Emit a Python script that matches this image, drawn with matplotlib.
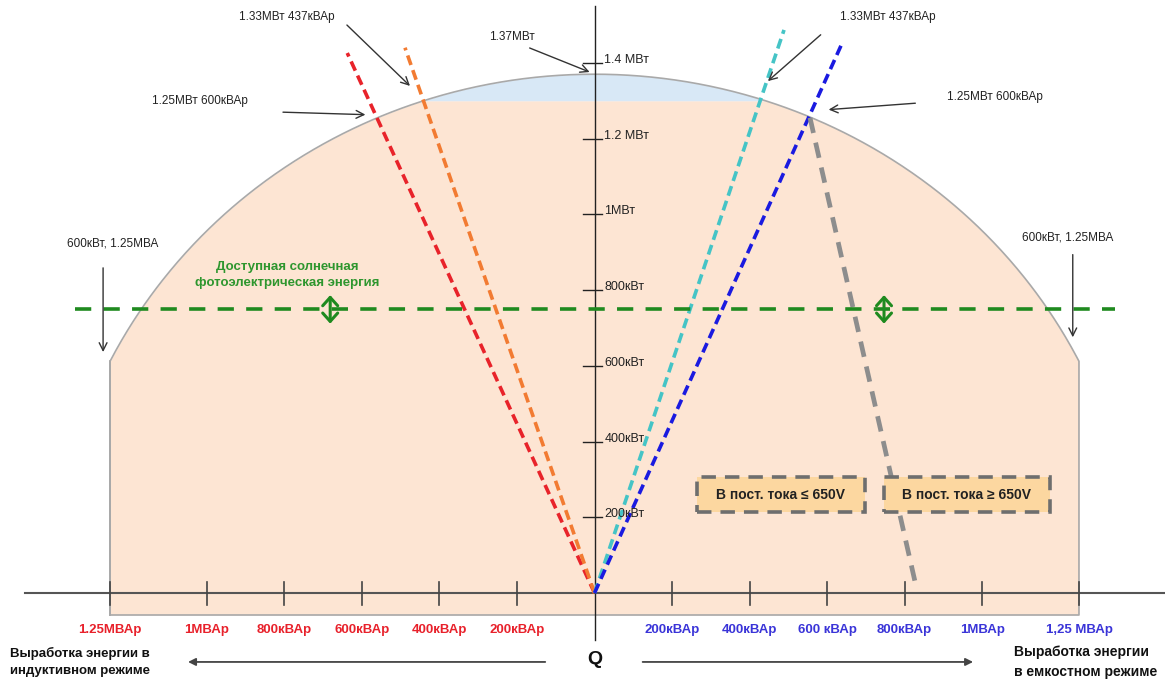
import numpy as np
import matplotlib
matplotlib.use("Agg")
import matplotlib.pyplot as plt
from matplotlib.patches import Rectangle

plt.rcParams['font.family'] = ['Liberation Sans', 'DejaVu Sans']

# --- Данные (кВАр по горизонтали, кВт по вертикали) ---
dome_top_kw = 1370
dome_edge_kw = 612
dome_edge_kvar = 1250
band_kw = 1300          # граница голубой зоны
floor_kw = -58          # нижний край закрашенной области

q_ticks_left = [-1250, -1000, -800, -600, -400, -200]
q_labels_left = ['1.25МВАр', '1МВАр', '800кВАр', '600кВАр', '400кВАр', '200кВАр']
q_ticks_right = [200, 400, 600, 800, 1000, 1250]
q_labels_right = ['200кВАр', '400кВАр', '600 кВАр', '800кВАр', '1МВАр', '1,25 МВАр']
p_ticks = [200, 400, 600, 800, 1000, 1200, 1400]
p_labels = ['200кВт', '400кВт', '600кВт', '800кВт', '1МВт', '1.2 МВт', '1.4 МВт']

red_q, red_p = [0, -638], [0, 1426]
orange_q, orange_p = [0, -489], [0, 1440]
cyan_q, cyan_p = [0, 489], [0, 1487]
blue_q, blue_p = [0, 638], [0, 1450]
gray_q, gray_p = [556, 829], [1255, 21]
solar_q, solar_p = [-1340, 1343], [750, 750]
solar_arrows_q = [-682, 747]
solar_arrow_p = [704, 794]

# --- Фигура: оси на весь холст, масштаб подобран под картинку ---
fig = plt.figure(figsize=(11.65, 6.93), dpi=100)
ax = fig.add_axes([0, 0, 1, 1])
ax.set_xlim(-1534, 1472)
ax.set_ylim(-264, 1566)
ax.axis('off')

# купол
a = dome_edge_kvar / np.sqrt(1 - (dome_edge_kw / dome_top_kw) ** 2)
q = np.linspace(-dome_edge_kvar, dome_edge_kvar, 500)
dome = dome_top_kw * np.sqrt(1 - (q / a) ** 2)

ax.fill_between(q, floor_kw, np.minimum(dome, band_kw), color='#fde5d3', lw=0, zorder=1)
ax.fill_between(q, band_kw, dome, where=dome > band_kw, color='#d8e8f6', lw=0, zorder=1)
ox = np.concatenate([[-dome_edge_kvar], q, [dome_edge_kvar, dome_edge_kvar, -dome_edge_kvar, -dome_edge_kvar]])
oy = np.concatenate([[floor_kw], dome, [dome[-1], floor_kw, floor_kw, dome[0]]])
ax.plot(ox, oy, color='#a9a9a9', lw=1.2, zorder=2)

# оси
ax.plot([-1470, 1472], [0, 0], color='#555555', lw=1.5, zorder=3)
ax.plot([0, 0], [-125, 1550], color='#222222', lw=1.0, zorder=3)
for t in q_ticks_left + q_ticks_right:
    ax.plot([t, t], [-32, 28], color='#444444', lw=1.2, zorder=3)
for t, lab in zip(p_ticks, p_labels):
    ax.plot([-30, 20], [t, t], color='#222222', lw=1.0, zorder=3)
    ax.text(25, t + 8, lab, fontsize=9, color='#222222', va='center', ha='left', zorder=6)

for t, lab in zip(q_ticks_left, q_labels_left):
    ax.text(t, -98, lab, fontsize=9.5, fontweight='bold', color='#e8212b', ha='center', va='center')
for t, lab in zip(q_ticks_right, q_labels_right):
    ax.text(t, -98, lab, fontsize=9.5, fontweight='bold', color='#3a34d8', ha='center', va='center')

# линии режимов
ax.plot(red_q, red_p, color='#e8232a', lw=2.6, dashes=[2.8, 1.5], zorder=4)
ax.plot(orange_q, orange_p, color='#f27b32', lw=2.6, dashes=[2.8, 1.5], zorder=4)
ax.plot(cyan_q, cyan_p, color='#45c4c6', lw=2.6, dashes=[2.8, 1.5], zorder=4)
ax.plot(blue_q, blue_p, color='#1a1ae0', lw=2.6, dashes=[2.8, 1.5], zorder=4)
ax.plot(gray_q, gray_p, color='#8d8d8d', lw=3.4, dashes=[3.3, 2.1], zorder=4)

# доступная солнечная энергия
ax.plot(solar_q, solar_p, color='#1f8a1f', lw=2.6, dashes=[4.5, 3.4], zorder=4)
for sq in solar_arrows_q:
    ax.annotate('', xy=(sq, solar_arrow_p[1]), xytext=(sq, solar_arrow_p[0]),
                arrowprops=dict(arrowstyle='<->, head_length=0.5, head_width=0.45',
                                color='#1f8a1f', lw=2.2, mutation_scale=12),
                zorder=5)
ax.text(-793, 840, 'Доступная солнечная\nфотоэлектрическая энергия', fontsize=9.5,
        fontweight='bold', color='#2e962e', ha='center', va='center', linespacing=1.4)

# подписи со стрелками
arrow_kw = dict(arrowstyle='->', color='#333333', lw=1.0, mutation_scale=14)
notes = [
    ('1.33МВт 437кВАр', (-795, 1521), (-644, 1505), (-471, 1334)),
    ('1.25МВт 600кВАр', (-1017, 1300), (-811, 1270), (-584, 1263)),
    ('1.37МВт', (-213, 1469), (-174, 1442), (-6, 1373)),
    ('1.33МВт 437кВАр', (757, 1521), (589, 1479), (442, 1347)),
    ('1.25МВт 600кВАр', (1033, 1310), (835, 1294), (597, 1276)),
    ('600кВт, 1.25МВА', (-1242, 924), (-1268, 866), (-1268, 629)),
    ('600кВт, 1.25МВА', (1222, 938), (1234, 901), (1234, 668)),
]
for txt, pos, tail, head in notes:
    ax.text(pos[0], pos[1], txt, fontsize=8.5, color='#222222', ha='center', va='center', zorder=6)
    ax.annotate('', xy=head, xytext=tail, arrowprops=arrow_kw, zorder=6)

# блоки напряжения
boxes = [('В пост. тока ≤ 650V', 264, 698), ('В пост. тока ≥ 650V', 748, 1174)]
for txt, x0, x1 in boxes:
    ax.add_patch(Rectangle((x0, 214), x1 - x0, 92, facecolor='#fcd7a0', edgecolor='#6e6e6e',
                           lw=2.6, linestyle=(0, (4, 2.5)), zorder=5))
    ax.text((x0 + x1) / 2, 260, txt, fontsize=10, fontweight='bold', color='#222222',
            ha='center', va='center', zorder=6)

# нижняя часть: Q и направления
ax.text(0, -175, 'Q', fontsize=14, fontweight='bold', color='#111111', ha='center', va='center')
ax.annotate('', xy=(-1056, -182), xytext=(-120, -182),
            arrowprops=dict(arrowstyle='-|>', color='#444444', lw=1.3, mutation_scale=11))
ax.annotate('', xy=(984, -182), xytext=(117, -182),
            arrowprops=dict(arrowstyle='-|>', color='#444444', lw=1.3, mutation_scale=11))
ax.text(-1508, -182, 'Выработка энергии в\nиндуктивном режиме', fontsize=9.5, fontweight='bold',
        color='#111111', ha='left', va='center', linespacing=1.5)
ax.text(1083, -182, 'Выработка энергии\nв емкостном режиме', fontsize=10, fontweight='bold',
        color='#111111', ha='left', va='center', linespacing=1.5)

fig.savefig('out.png', dpi=100)
